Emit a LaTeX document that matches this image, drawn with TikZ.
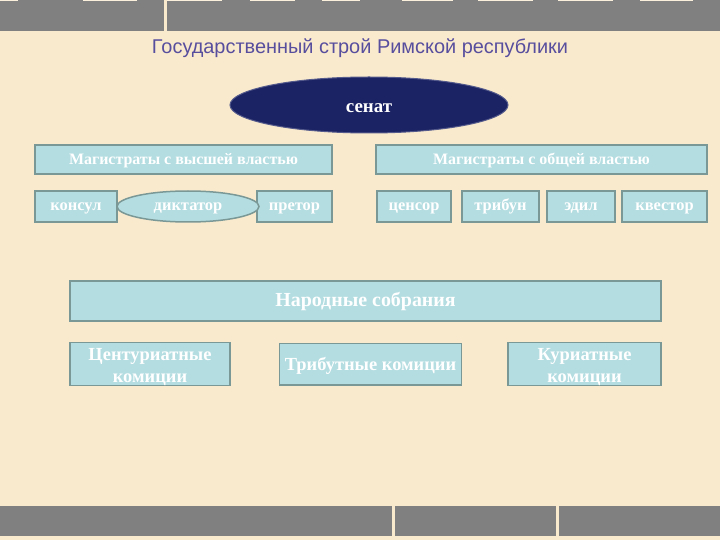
\documentclass[tikz,border=0pt]{standalone}
\usepackage{fontspec}
\setmainfont{Liberation Serif}
\newfontfamily\titlefont{Liberation Sans}
\usetikzlibrary{shapes.geometric}
\definecolor{marble}{RGB}{249,234,205}
\definecolor{barGrey}{RGB}{128,128,128}
\definecolor{boxFill}{RGB}{180,221,225}
\definecolor{boxLine}{RGB}{122,152,150}
\definecolor{senatBlue}{RGB}{27,35,100}
\definecolor{titleViolet}{RGB}{88,78,158}
\newcommand{\komstrut}{\rule{0pt}{18bp}}
\tikzset{
  box/.style={draw=boxLine, line width=1.5bp, fill=boxFill, text=white,
    inner sep=0pt, align=center},
  head/.style={box, minimum height=29bp, text height=13bp, text depth=3.5bp,
    font=\bfseries\fontsize{16}{17}\selectfont},
  mag/.style={box, minimum height=31bp, text height=12bp, text depth=4bp,
    font=\bfseries\fontsize{16.5}{17}\selectfont},
  magell/.style={mag, ellipse},
  komicii/.style={box, minimum height=41.5bp,
    font=\bfseries\fontsize{18.5}{21.5}\selectfont},
}
\begin{document}
\begin{tikzpicture}[x=1bp,y=-1bp]
% background and bars
\fill[marble] (0,0) rectangle (720,540);
\fill[barGrey] (0,0) rectangle (164,31);
\fill[barGrey] (167,0) rectangle (720,31);
\foreach \a/\b in {0/18,83/137,167/222,250/295,322/360,402/453,478/533,558/613,640/693}
  \fill[marble!70!white] (\a,0) rectangle (\b,1.5);
\fill[barGrey] (0,506) rectangle (392,536);
\fill[barGrey] (395,506) rectangle (556,536);
\fill[barGrey] (559,506) rectangle (720,536);

\node[text=titleViolet, font=\titlefont\fontsize{20}{22}\selectfont] (title) at (360,48)
  {Государственный строй Римской республики};

\node[ellipse, draw=senatBlue!75!white, line width=1bp, fill=senatBlue, text=white,
  minimum width=278bp, minimum height=56bp, inner sep=0pt, text height=15bp, text depth=0bp,
  font=\bfseries\fontsize{19}{20}\selectfont] (senat) at (369,105) {сенат};

%% magistrates
\node[head, minimum width=297bp] (vys) at (183.5,159.5) {Магистраты с высшей властью};
\node[head, minimum width=331bp] (obsh) at (541.5,159.5) {Магистраты с общей властью};

\node[mag, minimum width=82bp] (konsul) at (76,206.5) {консул};
\node[mag, minimum width=75bp] (pretor) at (294.5,206.5) {претор};
\node[magell, minimum width=142bp] (diktator) at (188,206.5) {диктатор};

\node[mag, minimum width=74bp] (cenzor) at (414,206.5) {ценсор};
\node[mag, minimum width=77bp] (tribun) at (500.5,206.5) {трибун};
\node[mag, minimum width=68bp] (edil) at (581,206.5) {эдил};
\node[mag, minimum width=85bp] (kvestor) at (664.5,206.5) {квестор};

%% assemblies
\node[box, minimum width=591bp, minimum height=40bp,
  font=\bfseries\fontsize{20}{21}\selectfont] (narod) at (365.5,301) {Народные собрания};

\node[komicii, minimum width=160bp] (cent) at (150,364) {\komstrut Центуриатные\\комиции};
\node[komicii, minimum width=182bp, text height=14bp, text depth=1.6bp] (trib) at (370.5,364) {Трибутные комиции};
\node[komicii, minimum width=153bp] (kur) at (584.5,364) {\komstrut Куриатные\\комиции};
\end{tikzpicture}
\end{document}
